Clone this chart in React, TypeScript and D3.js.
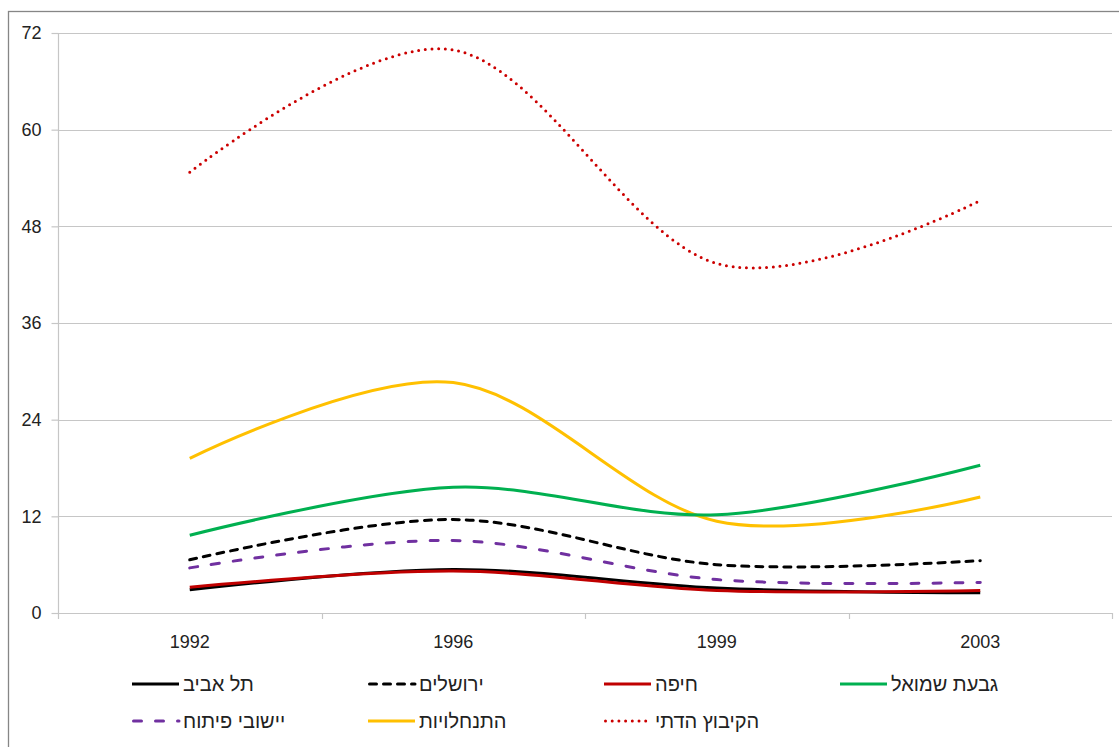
import React, { useEffect, useRef } from 'react';
import * as d3 from 'd3';

const years = ['1992', '1996', '1999', '2003'];
const yTicks = [0, 12, 24, 36, 48, 60, 72];

const telAviv = [2.9, 5.4, 3.1, 2.5];
const jerusalem = [6.6, 11.6, 6.0, 6.5];
const haifa = [3.2, 5.2, 2.8, 2.8];
const givatShmuel = [9.65, 15.6, 12.2, 18.35];
const development = [5.6, 9.0, 4.15, 3.8];
const settlements = [19.2, 28.6, 11.4, 14.4];
const religiousKibbutz = [54.7, 69.9, 43.4, 51.2];

interface Series {
  name: string;
  values: number[];
  color: string;
  dash: string | null;
  width: number;
}

const series: Series[] = [
  { name: 'תל אביב', values: telAviv, color: '#000000', dash: null, width: 3 },
  { name: 'ירושלים', values: jerusalem, color: '#000000', dash: '7 7', width: 3 },
  { name: 'חיפה', values: haifa, color: '#C00000', dash: null, width: 3 },
  { name: 'גבעת שמואל', values: givatShmuel, color: '#00B050', dash: null, width: 3 },
  { name: 'יישובי פיתוח', values: development, color: '#7030A0', dash: '8 14', width: 3 },
  { name: 'התנחלויות', values: settlements, color: '#FFC000', dash: null, width: 3 },
  { name: 'הקיבוץ הדתי', values: religiousKibbutz, color: '#CC0000', dash: '0 6.7', width: 3 },
];

const W = 1119;
const H = 747;
const font = '"Liberation Sans", Arial, sans-serif';

function App() {
  const svgRef = useRef<SVGSVGElement>(null);

  useEffect(() => {
    if (!svgRef.current) return;
    const svg = d3.select(svgRef.current);
    svg.selectAll('*').remove();

    const plot = { left: 58, right: 1112, top: 33, bottom: 613 };

    const x = d3.scaleBand<string>().domain(years).range([plot.left, plot.right]);
    const cx = (d: string) => (x(d) ?? 0) + x.bandwidth() / 2;
    const y = d3.scaleLinear().domain([0, 72]).range([plot.bottom, plot.top]);

    // chart frame
    svg.append('rect')
      .attr('x', 8.5).attr('y', 11.5)
      .attr('width', W + 50).attr('height', H + 50)
      .attr('fill', 'none')
      .attr('stroke', '#868686')
      .attr('stroke-width', 1.3);

    // gridlines
    svg.append('g')
      .selectAll('line')
      .data(yTicks)
      .enter().append('line')
      .attr('x1', plot.left).attr('x2', plot.right)
      .attr('y1', d => Math.round(y(d)) + 0.5)
      .attr('y2', d => Math.round(y(d)) + 0.5)
      .attr('stroke', '#c6c6c6')
      .attr('stroke-width', 1.2);

    // y axis
    const yAxis = svg.append('g')
      .attr('transform', `translate(${plot.left + 0.5},0)`)
      .call(d3.axisLeft(y).tickValues(yTicks).tickSize(7).tickPadding(10).tickFormat(d3.format('d')));
    yAxis.select('.domain').remove();
    yAxis.selectAll('.tick line').attr('stroke', '#c6c6c6').attr('stroke-width', 1.2);
    yAxis.selectAll('.tick text')
      .attr('fill', '#222')
      .style('font-family', font)
      .style('font-size', '18px');
    svg.append('line')
      .attr('x1', plot.left + 0.5).attr('x2', plot.left + 0.5)
      .attr('y1', plot.top).attr('y2', plot.bottom + 6)
      .attr('stroke', '#c6c6c6').attr('stroke-width', 1.2);

    // x axis ticks at band boundaries
    const bounds = years.map(d => x(d) ?? 0).concat([plot.right]);
    svg.append('g')
      .selectAll('line')
      .data(bounds.slice(1))
      .enter().append('line')
      .attr('x1', d => Math.round(d) + 0.5).attr('x2', d => Math.round(d) + 0.5)
      .attr('y1', plot.bottom).attr('y2', plot.bottom + 6)
      .attr('stroke', '#c6c6c6').attr('stroke-width', 1.2);

    svg.append('g')
      .selectAll('text')
      .data(years)
      .enter().append('text')
      .attr('x', d => cx(d))
      .attr('y', 648)
      .attr('text-anchor', 'middle')
      .attr('fill', '#222')
      .style('font-family', font)
      .style('font-size', '18px')
      .text(d => d);

    // lines
    const line = d3.line<number>()
      .x((_, i) => cx(years[i]))
      .y(d => y(d))
      .curve(d3.curveCardinal.tension(0));

    const drawOrder = [6, 5, 3, 1, 4, 0, 2];
    drawOrder.forEach(i => {
      const s = series[i];
      svg.append('path')
        .datum(s.values)
        .attr('fill', 'none')
        .attr('stroke', s.color)
        .attr('stroke-width', s.width)
        .attr('stroke-linecap', s.dash ? 'round' : 'butt')
        .attr('stroke-dasharray', s.dash)
        .attr('d', line);
    });

    // legend
    const colX = [132, 368, 604, 840];
    const rowY = [684, 721];
    series.forEach((s, i) => {
      const col = i % 4;
      const row = Math.floor(i / 4);
      const lx = colX[col];
      const ly = rowY[row];
      const g = svg.append('g');
      g.append('line')
        .attr('x1', lx + (s.dash ? 1.5 : 0)).attr('x2', lx + 47)
        .attr('y1', ly).attr('y2', ly)
        .attr('stroke', s.color)
        .attr('stroke-width', s.width)
        .attr('stroke-linecap', s.dash ? 'round' : 'butt')
        .attr('stroke-dasharray', s.dash);
      g.append('text')
        .attr('x', lx + 51)
        .attr('y', ly + 7)
        .attr('fill', '#222')
        .style('font-family', font)
        .style('font-size', '20px')
        .text(s.name);
    });
  }, []);

  return (
    <svg
      ref={svgRef}
      width={W}
      height={H}
      style={{ position: 'absolute', left: 0, top: 0, background: '#fff' }}
    />
  );
}

export default App;
